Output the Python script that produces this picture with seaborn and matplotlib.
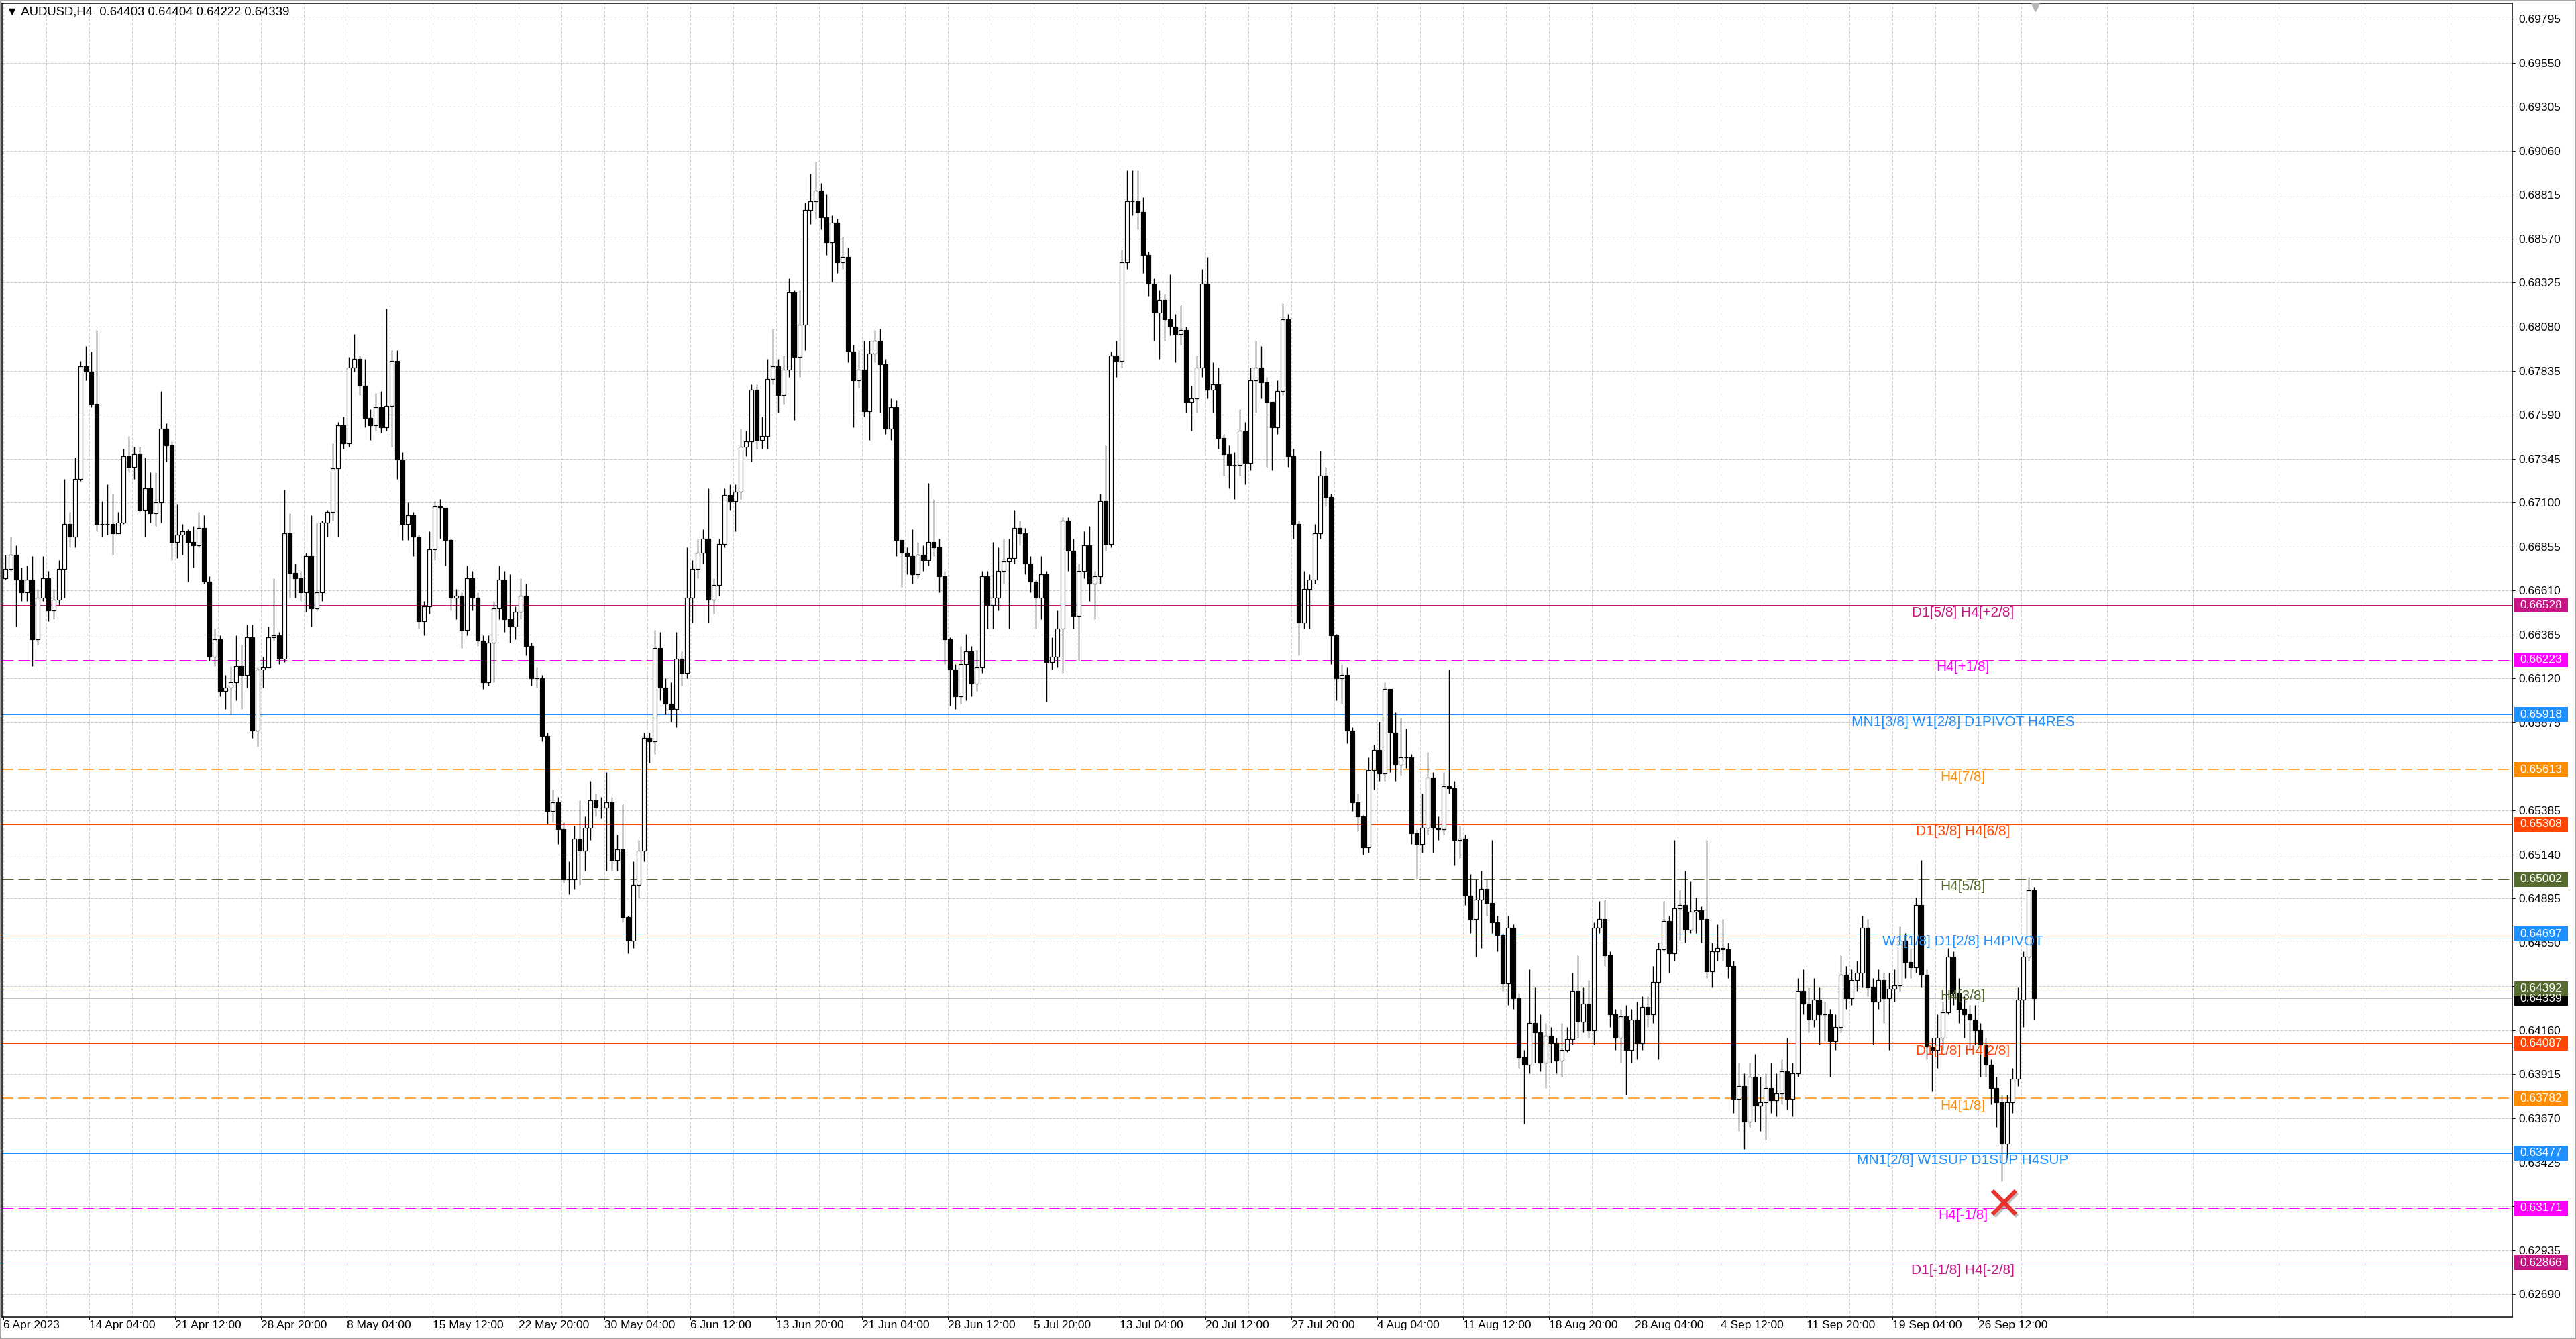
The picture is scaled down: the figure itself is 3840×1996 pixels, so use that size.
import matplotlib
matplotlib.use("Agg")
import matplotlib.pyplot as plt
import matplotlib.transforms as mtransforms
import matplotlib.patheffects as pe
from matplotlib.patches import Rectangle
import numpy as np
import pandas as pd
import seaborn as sns

# values; each candle below merges two H4 bars
header = "\u25bc AUDUSD,H4  0.64403 0.64404 0.64222 0.64339"
first_open = 0.6668

close = [
    .6673, .6681, .6667, .6660, .6667, .6634, .6657, .6668, .6650, .6656, .6673, .6698, .6691, .6723, .6786, .6783,
    .6765, .6698, .6698, .6698, .6693, .6699, .6736, .6730, .6737, .6706, .6718, .6704, .6710, .6751, .6742, .6688,
    .6692, .6694, .6688, .6686, .6696, .6666, .6624, .6634, .6605, .6607, .6610, .6619, .6614, .6635, .6583, .6617,
    .6618, .6635, .6636, .6623, .6693, .6671, .6668, .6660, .6680, .6651, .6660, .6699, .6705, .6729, .6753, .6743,
    .6785, .6790, .6775, .6757, .6753, .6763, .6752, .6764, .6789, .6734, .6698, .6703, .6691, .6644, .6652, .6684,
    .6708, .6707, .6689, .6657, .6658, .6639, .6668, .6657, .6633, .6610, .6632, .6651, .6667, .6645, .6641, .6649,
    .6658, .6630, .6612, .6612, .6580, .6538, .6543, .6528, .6500, .6500, .6523, .6516, .6529, .6544, .6540, .6540,
    .6543, .6511, .6517, .6479, .6466, .6497, .6516, .6579, .6577, .6629, .6607, .6598, .6595, .6623, .6615, .6657,
    .6673, .6682, .6690, .6656, .6664, .6687, .6714, .6711, .6716, .6741, .6744, .6773, .6745, .6747, .6779, .6786,
    .6770, .6784, .6827, .6791, .6809, .6873, .6878, .6884, .6869, .6855, .6866, .6844, .6847, .6794, .6778, .6784,
    .6761, .6793, .6800, .6787, .6751, .6763, .6689, .6682, .6680, .6670, .6681, .6678, .6688, .6685, .6669, .6634,
    .6617, .6602, .6620, .6627, .6609, .6618, .6669, .6653, .6657, .6672, .6677, .6679, .6696, .6693, .6676, .6666,
    .6657, .6670, .6621, .6624, .6640, .6700, .6683, .6647, .6672, .6686, .6665, .6669, .6711, .6687, .6792, .6789,
    .6844, .6878, .6878, .6872, .6848, .6832, .6816, .6823, .6812, .6808, .6804, .6806, .6766, .6768, .6785, .6832,
    .6773, .6776, .6746, .6737, .6731, .6731, .6750, .6732, .6778, .6785, .6777, .6766, .6752, .6772, .6812, .6736,
    .6698, .6643, .6662, .6667, .6693, .6725, .6713, .6636, .6612, .6614, .6583, .6543, .6535, .6518, .6561, .6572,
    .6559, .6606, .6582, .6564, .6568, .6568, .6526, .6520, .6529, .6557, .6529, .6528, .6552, .6551, .6522, .6523,
    .6491, .6478, .6489, .6495, .6487, .6476, .6469, .6442, .6473, .6434, .6401, .6397, .6420, .6415, .6398, .6413,
    .6409, .6399, .6405, .6411, .6438, .6421, .6431, .6416, .6473, .6478, .6458, .6425, .6412, .6424, .6405, .6422,
    .6409, .6429, .6425, .6443, .6461, .6477, .6459, .6484, .6486, .6472, .6482, .6483, .6478, .6449, .6460, .6462,
    .6461, .6452, .6378, .6385, .6365, .6390, .6374, .6376, .6384, .6377, .6381, .6393, .6378, .6392, .6438, .6431,
    .6422, .6433, .6425, .6425, .6410, .6418, .6447, .6434, .6444, .6448, .6473, .6440, .6432, .6444, .6434, .6439,
    .6441, .6466, .6454, .6451, .6486, .6447, .6407, .6405, .6412, .6426, .6457, .6437, .6428, .6425, .6422, .6416,
    .6408, .6397, .6384, .6376, .6353, .6376, .6389, .6433, .6457, .6494, .6434,
]

high = [
    .6681, .6691, .6686, .6674, .6675, .6680, .6662, .6680, .6672, .6662, .6678, .6723, .6705, .6735, .6789, .6797,
    .6794, .6806, .6711, .6720, .6715, .6705, .6740, .6747, .6741, .6741, .6735, .6727, .6727, .6772, .6754, .6744,
    .6709, .6698, .6695, .6697, .6705, .6703, .6669, .6640, .6636, .6614, .6619, .6636, .6631, .6642, .6642, .6618,
    .6624, .6641, .6668, .6638, .6717, .6704, .6676, .6672, .6682, .6703, .6699, .6700, .6706, .6743, .6755, .6758,
    .6791, .6804, .6792, .6790, .6762, .6771, .6772, .6818, .6795, .6795, .6738, .6710, .6705, .6692, .6655, .6694,
    .6711, .6712, .6707, .6690, .6662, .6660, .6675, .6672, .6660, .6636, .6636, .6655, .6675, .6672, .6670, .6652,
    .6668, .6665, .6632, .6618, .6614, .6582, .6550, .6546, .6532, .6510, .6530, .6544, .6535, .6555, .6548, .6546,
    .6560, .6546, .6525, .6542, .6480, .6510, .6522, .6582, .6582, .6639, .6638, .6612, .6610, .6638, .6627, .6685,
    .6678, .6690, .6695, .6718, .6668, .6690, .6718, .6720, .6720, .6751, .6750, .6776, .6776, .6758, .6790, .6807,
    .6790, .6792, .6835, .6828, .6828, .6877, .6893, .6900, .6888, .6882, .6870, .6868, .6858, .6852, .6798, .6795,
    .6800, .6800, .6806, .6807, .6790, .6768, .6767, .6688, .6685, .6695, .6688, .6686, .6721, .6712, .6690, .6672,
    .6635, .6620, .6630, .6637, .6630, .6628, .6672, .6672, .6688, .6685, .6690, .6690, .6706, .6700, .6696, .6680,
    .6667, .6680, .6672, .6635, .6650, .6702, .6702, .6690, .6676, .6694, .6697, .6672, .6715, .6742, .6794, .6800,
    .6851, .6895, .6895, .6895, .6880, .6850, .6835, .6828, .6826, .6837, .6815, .6820, .6808, .6775, .6792, .6840,
    .6847, .6788, .6785, .6748, .6742, .6738, .6762, .6755, .6785, .6800, .6797, .6780, .6766, .6778, .6821, .6815,
    .6740, .6700, .6672, .6670, .6698, .6739, .6730, .6715, .6637, .6620, .6618, .6585, .6548, .6536, .6568, .6575,
    .6588, .6610, .6605, .6593, .6590, .6584, .6570, .6528, .6548, .6571, .6560, .6535, .6560, .6617, .6555, .6530,
    .6525, .6503, .6500, .6505, .6500, .6522, .6480, .6470, .6480, .6475, .6437, .6405, .6450, .6440, .6425, .6420,
    .6418, .6412, .6420, .6418, .6448, .6458, .6440, .6444, .6476, .6488, .6489, .6460, .6428, .6428, .6430, .6428,
    .6432, .6435, .6435, .6452, .6465, .6488, .6480, .6522, .6494, .6505, .6499, .6490, .6485, .6522, .6465, .6475,
    .6478, .6465, .6455, .6398, .6392, .6398, .6403, .6390, .6392, .6398, .6392, .6400, .6412, .6398, .6445, .6450,
    .6440, .6445, .6440, .6432, .6428, .6425, .6458, .6452, .6450, .6455, .6480, .6478, .6445, .6450, .6448, .6448,
    .6450, .6474, .6470, .6462, .6490, .6511, .6450, .6412, .6425, .6432, .6462, .6460, .6445, .6435, .6430, .6430,
    .6420, .6412, .6400, .6390, .6380, .6380, .6395, .6440, .6460, .6501, .6496,
]

low = [
    .6667, .6672, .6641, .6655, .6655, .6619, .6631, .6655, .6644, .6645, .6653, .6657, .6685, .6685, .6722, .6778,
    .6763, .6694, .6691, .6692, .6681, .6693, .6698, .6727, .6723, .6705, .6691, .6699, .6697, .6699, .6733, .6678,
    .6679, .6681, .6666, .6674, .6685, .6665, .6622, .6619, .6602, .6595, .6592, .6600, .6595, .6607, .6579, .6574,
    .6607, .6624, .6633, .6620, .6621, .6657, .6657, .6655, .6649, .6641, .6650, .6655, .6691, .6700, .6691, .6740,
    .6741, .6783, .6770, .6752, .6745, .6750, .6749, .6750, .6741, .6723, .6689, .6689, .6680, .6640, .6636, .6648,
    .6678, .6690, .6675, .6650, .6645, .6629, .6636, .6650, .6630, .6606, .6608, .6610, .6645, .6638, .6632, .6634,
    .6645, .6625, .6608, .6607, .6577, .6531, .6532, .6520, .6498, .6492, .6495, .6497, .6505, .6522, .6535, .6534,
    .6505, .6505, .6505, .6476, .6459, .6462, .6490, .6510, .6565, .6570, .6600, .6592, .6588, .6585, .6608, .6612,
    .6643, .6668, .6676, .6643, .6648, .6658, .6685, .6706, .6694, .6712, .6736, .6733, .6740, .6740, .6740, .6776,
    .6760, .6765, .6780, .6756, .6780, .6795, .6865, .6868, .6862, .6848, .6833, .6838, .6840, .6788, .6752, .6774,
    .6758, .6745, .6788, .6760, .6748, .6745, .6680, .6663, .6670, .6665, .6668, .6672, .6675, .6680, .6660, .6620,
    .6597, .6595, .6598, .6600, .6602, .6605, .6615, .6640, .6640, .6650, .6665, .6640, .6676, .6686, .6670, .6660,
    .6640, .6645, .6599, .6617, .6618, .6615, .6672, .6640, .6622, .6668, .6655, .6645, .6665, .6683, .6685, .6780,
    .6785, .6840, .6870, .6862, .6838, .6825, .6800, .6790, .6800, .6803, .6788, .6798, .6760, .6750, .6760, .6780,
    .6768, .6760, .6740, .6725, .6718, .6712, .6725, .6720, .6728, .6760, .6768, .6730, .6728, .6748, .6770, .6730,
    .6690, .6625, .6640, .6640, .6665, .6690, .6708, .6620, .6600, .6598, .6576, .6538, .6527, .6514, .6515, .6550,
    .6555, .6555, .6560, .6555, .6558, .6562, .6520, .6500, .6515, .6525, .6515, .6522, .6525, .6548, .6508, .6512,
    .6486, .6470, .6457, .6462, .6480, .6470, .6460, .6438, .6430, .6428, .6395, .6364, .6392, .6398, .6393, .6384,
    .6398, .6392, .6390, .6404, .6408, .6412, .6415, .6412, .6408, .6470, .6452, .6418, .6405, .6398, .6380, .6398,
    .6400, .6405, .6418, .6420, .6400, .6460, .6448, .6455, .6466, .6465, .6470, .6470, .6465, .6445, .6440, .6455,
    .6455, .6445, .6370, .6360, .6350, .6362, .6365, .6360, .6355, .6370, .6368, .6375, .6372, .6368, .6390, .6425,
    .6415, .6418, .6408, .6410, .6390, .6405, .6415, .6428, .6430, .6438, .6440, .6435, .6408, .6428, .6420, .6405,
    .6432, .6438, .6445, .6445, .6448, .6440, .6400, .6382, .6395, .6405, .6425, .6430, .6420, .6412, .6405, .6408,
    .6390, .6390, .6375, .6362, .6332, .6345, .6370, .6385, .6418, .6455, .6422,
]

time_labels = [
    "6 Apr 2023", "14 Apr 04:00", "21 Apr 12:00", "28 Apr 20:00", "8 May 04:00", "15 May 12:00",
    "22 May 20:00", "30 May 04:00", "6 Jun 12:00", "13 Jun 20:00", "21 Jun 04:00", "28 Jun 12:00",
    "5 Jul 20:00", "13 Jul 04:00", "20 Jul 12:00", "27 Jul 20:00", "4 Aug 04:00", "11 Aug 12:00",
    "18 Aug 20:00", "28 Aug 04:00", "4 Sep 12:00", "11 Sep 20:00", "19 Sep 04:00", "26 Sep 12:00",
]
bars_per_label = 32

level_price = [0.66528, 0.66223, 0.65918, 0.65613, 0.65308, 0.65002, 0.64697,
               0.64392, 0.64087, 0.63782, 0.63477, 0.63171, 0.62866]
level_label = ["D1[5/8] H4[+2/8]", "H4[+1/8]", "MN1[3/8] W1[2/8] D1PIVOT H4RES", "H4[7/8]",
               "D1[3/8] H4[6/8]", "H4[5/8]", "W1[1/8] D1[2/8] H4PIVOT", "H4[3/8]",
               "D1[1/8] H4[2/8]", "H4[1/8]", "MN1[2/8] W1SUP D1SUP H4SUP", "H4[-1/8]",
               "D1[-1/8] H4[-2/8]"]
level_color = ["#C71585", "#FF00FF", "#1E90FF", "#FF8C00", "#FF4500", "#556B2F", "#1E90FF",
               "#556B2F", "#FF4500", "#FF8C00", "#1E90FF", "#FF00FF", "#C71585"]
level_dashed = [False, True, False, True, False, True, False, True, False, True, False, True, False]
level_px = [1, 1, 2, 1.5, 1, 1, 1, 1, 1, 1.5, 2, 1, 1]

bid_price = 0.64339
signal_bar = 745.3
signal_price = 0.6320

W, H, DPI = 3840, 1996, 100
PX = 72 / DPI
y_lo, y_hi = 0.62564, 0.69881
x_lo, x_hi = -0.75, 934.75
label_bar = 730

sns.set_theme(style="white")
plt.rcParams["font.family"] = ["Liberation Sans", "DejaVu Sans"]
plt.rcParams["lines.scale_dashes"] = False

fig = plt.figure(figsize=(W / DPI, H / DPI), dpi=DPI, facecolor="white")
fig.patch.set_edgecolor("#a8a8a8")
fig.patch.set_linewidth(2)
ax = fig.add_axes([3 / W, 1 - 1963 / H, 3742 / W, 1958 / H])
ax.set_facecolor("white")

df = pd.DataFrame({"close": close, "high": high, "low": low})
df["open"] = [first_open] + close[:-1]
df["x"] = 2 * np.arange(len(df)) + 0.5
body_top = df[["open", "close"]].max(axis=1)
body_bot = df[["open", "close"]].min(axis=1)
wick_hi = np.maximum(df["high"], body_top)
wick_lo = np.minimum(df["low"], body_bot)
up = df["close"] >= df["open"]

ax.vlines(df["x"], wick_lo, wick_hi, colors="black", linewidth=1.4 * PX, zorder=3)
ax.bar(df["x"][up], (body_top - body_bot)[up], bottom=body_bot[up], width=1.5,
       facecolor="white", edgecolor="black", linewidth=1.2 * PX, zorder=4)
ax.bar(df["x"][~up], (body_top - body_bot)[~up], bottom=body_bot[~up], width=1.5,
       facecolor="black", edgecolor="black", linewidth=1.2 * PX, zorder=4)

# support / resistance levels
ax.axhline(bid_price, color="#c0c0c0", linewidth=1 * PX, zorder=2)
for p, c, d, w in zip(level_price, level_color, level_dashed, level_px):
    ls = (0, (17 * PX, 7 * PX)) if d else "-"
    ax.axhline(p, color=c, linewidth=w * PX, linestyle=ls, zorder=2)
for p, t, c in zip(level_price, level_label, level_color):
    ax.annotate(t, (label_bar, p), xytext=(0, -11 * PX), textcoords="offset points",
                ha="center", va="center", color=c, fontsize=15, zorder=6)

ax.plot([signal_bar], [signal_price], marker="x", markersize=25, markeredgewidth=6 * PX,
        color="#E8322E", linestyle="none", zorder=7,
        path_effects=[pe.SimpleLineShadow(offset=(2, -2), shadow_color="gray", alpha=0.5), pe.Normal()])

ax.set_xlim(x_lo, x_hi)
ax.set_ylim(y_lo, y_hi)

# price scale on the right
price_ticks = np.round(0.62690 + 0.00245 * np.arange(30), 5)
ax.yaxis.tick_right()
ax.set_yticks(price_ticks)
ax.set_yticklabels([f"{v:.5f}" for v in price_ticks])
ax.tick_params(axis="y", which="major", right=True, left=False, length=4 * PX, width=1 * PX,
               pad=5 * PX, labelsize=12.5, colors="black")

x_major = [bars_per_label * k - 0.25 for k in range(len(time_labels))]
ax.set_xticks(x_major)
ax.set_xticklabels(time_labels, ha="left")
ax.set_xticks(np.arange(bars_per_label // 2, x_hi, bars_per_label) - 0.25, minor=True)
ax.tick_params(axis="x", which="major", bottom=True, length=4 * PX, width=1 * PX,
               pad=0.5, labelsize=12.5, colors="black")
ax.tick_params(axis="x", which="minor", length=0)

ax.set_axisbelow(True)
ax.grid(axis="y", which="major", color="#c8c8c8", linestyle=(0, (4 * PX, 2 * PX)), linewidth=1 * PX)
ax.grid(axis="x", which="both", color="#c8c8c8", linestyle=(0, (3 * PX, 3 * PX)), linewidth=1 * PX)

for s in ax.spines.values():
    s.set_color("black")
    s.set_linewidth(1.5 * PX)

# coloured price boxes on the scale
trans = mtransforms.blended_transform_factory(ax.transAxes, ax.transData)
px_per_price = 1958 / (y_hi - y_lo)
box_h = 22 / px_per_price
box_x0 = 1 + 3 / 3742
box_w = 80 / 3742
box_items = [(bid_price, "black")] + list(zip(level_price, level_color))
for p, c in box_items:
    ax.add_patch(Rectangle((box_x0, p - box_h / 2), box_w, box_h, transform=trans,
                           facecolor=c, edgecolor="none", clip_on=False, zorder=8))
    ax.text(box_x0 + box_w / 2, p, f"{p:.5f}", transform=trans, ha="center", va="center",
            color="white", fontsize=12.5, zorder=9, clip_on=False)

ax.text(6 / 3742, 1 - 13 / 1958, header, transform=ax.transAxes, ha="left", va="center",
        fontsize=13.3, color="black", zorder=9)

shift_trans = mtransforms.blended_transform_factory(ax.transData, ax.transAxes)
ax.plot([df["x"].iloc[-1] + 0.5], [0.997], marker="v", markersize=9, color="#b4b4b4",
        transform=shift_trans, clip_on=False, zorder=9)

fig.savefig("out.png", dpi=DPI, facecolor="white")
